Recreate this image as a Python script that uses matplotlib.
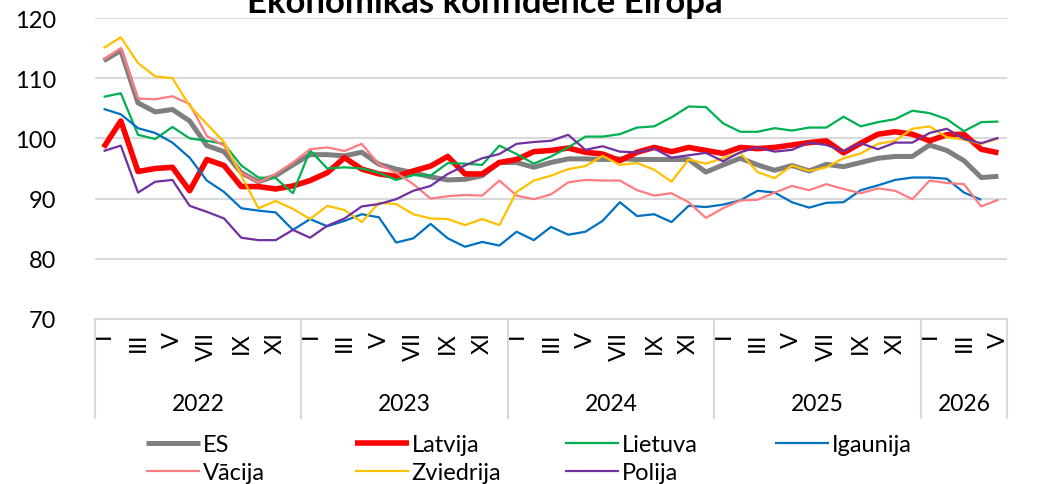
import matplotlib.pyplot as plt
import matplotlib.transforms as mtransforms
import numpy as np

plt.rcParams["font.family"] = ["Lato", "DejaVu Sans"]

# Gadi un mēnešu skaits katrā gadā (2022-I ... 2026-V)
gadi = ["2022", "2023", "2024", "2025", "2026"]
menesi_gada = [12, 12, 12, 12, 5]
menesu_etiketes = ["I", "", "III", "", "V", "", "VII", "", "IX", "", "XI", ""]

es = [112.9, 114.6, 105.9, 104.4, 104.8, 102.9, 98.8, 97.8, 94.3, 92.8, 93.8, 95.6, 97.3,
      97.3, 97.1, 97.7, 95.7, 94.9, 94.3, 93.6, 93.1, 93.2, 93.8, 96.0,
      96.0, 95.2, 96.0, 96.6, 96.6, 96.5, 96.6, 96.5, 96.5, 96.5, 96.5, 94.4,
      95.6, 96.7, 95.6, 94.7, 95.5, 94.6, 95.7, 95.3, 96.0, 96.7, 97.0, 97.0,
      98.9, 98.0, 96.3, 93.5, 93.7]
latvija = [98.5, 102.9, 94.5, 95.0, 95.2, 91.3, 96.5, 95.5, 92.0, 92.0, 91.6, 92.1, 93.0,
           94.3, 96.8, 94.9, 94.1, 93.7, 94.6, 95.4, 97.0, 94.1, 94.1, 96.0,
           96.5, 97.8, 98.0, 98.4, 97.7, 97.4, 96.3, 97.7, 98.5, 97.8, 98.5, 98.0,
           97.5, 98.5, 98.3, 98.5, 98.9, 99.3, 99.6, 97.6, 99.2, 100.7, 101.1, 100.7,
           99.6, 100.6, 100.7, 98.2, 97.6]
lietuva = [106.9, 107.5, 100.6, 99.9, 101.9, 100.0, 99.6, 99.1, 95.5, 93.5, 93.4, 90.9, 98.0,
           95.0, 95.2, 95.0, 94.3, 93.1, 93.9, 93.8, 95.9, 95.8, 95.6, 98.8,
           97.4, 95.8, 97.0, 98.5, 100.3, 100.3, 100.7, 101.8, 102.0, 103.5, 105.3, 105.2,
           102.5, 101.1, 101.1, 101.7, 101.3, 101.8, 101.8, 103.6, 102.0, 102.7, 103.2, 104.6,
           104.2, 103.2, 101.2, 102.7, 102.8]
igaunija = [104.9, 104.0, 101.7, 100.9, 99.3, 96.8, 93.0, 91.1, 88.4, 88.0, 87.7, 84.8, 86.6,
            85.4, 86.3, 87.4, 86.9, 82.7, 83.4, 85.8, 83.4, 82.0, 82.8, 82.2,
            84.5, 83.1, 85.3, 84.0, 84.5, 86.3, 89.4, 87.1, 87.4, 86.1, 88.8, 88.6,
            89.0, 89.7, 91.3, 91.0, 89.4, 88.5, 89.3, 89.4, 91.4, 92.2, 93.1, 93.5,
            93.5, 93.3, 91.0, 89.8, np.nan]
vacija = [113.1, 115.0, 106.6, 106.5, 107.0, 105.7, 100.4, 98.8, 94.3, 92.7, 94.1, 96.0, 98.2,
          98.5, 97.9, 99.1, 95.7, 94.3, 92.4, 90.0, 90.4, 90.6, 90.5, 93.0,
          90.5, 89.9, 90.7, 92.7, 93.1, 93.0, 93.0, 91.4, 90.5, 90.9, 89.4, 86.8,
          88.4, 89.7, 89.8, 91.0, 92.1, 91.4, 92.4, 91.6, 90.9, 91.7, 91.3, 89.9,
          93.0, 92.6, 92.4, 88.7, 89.8]
zviedrija = [115.0, 116.8, 112.5, 110.3, 110.0, 105.4, 102.4, 99.4, 93.8, 88.4, 89.6, 88.3, 86.6,
             88.8, 88.1, 86.1, 89.3, 89.1, 87.4, 86.7, 86.6, 85.6, 86.6, 85.6,
             91.1, 93.0, 93.8, 94.9, 95.4, 97.1, 95.6, 95.9, 94.8, 92.8, 96.5, 95.8,
             96.7, 97.6, 94.4, 93.4, 95.5, 94.6, 95.2, 96.7, 97.5, 99.1, 99.6, 101.6,
             102.0, 100.2, 99.8, 99.1, 100.0]
polija = [97.9, 98.8, 91.0, 92.8, 93.1, 88.8, 87.8, 86.7, 83.5, 83.1, 83.1, 84.8, 83.5,
          85.5, 86.7, 88.7, 89.1, 89.9, 91.3, 92.1, 94.1, 95.5, 96.7, 97.4,
          99.1, 99.4, 99.6, 100.6, 98.1, 98.7, 97.8, 97.7, 98.3, 96.8, 97.2, 97.6,
          96.2, 97.7, 98.5, 97.8, 98.1, 99.3, 98.9, 97.9, 99.2, 98.2, 99.3, 99.3,
          100.9, 101.6, 99.9, 99.2, 100.1]

serijas = [
    ("ES", es, "#7f7f7f", 3.6),
    ("Latvija", latvija, "#ff0000", 4.0),
    ("Lietuva", lietuva, "#00b050", 1.6),
    ("Igaunija", igaunija, "#0070c0", 1.6),
    ("Vācija", vacija, "#ff7c80", 1.6),
    ("Zviedrija", zviedrija, "#ffc000", 1.6),
    ("Polija", polija, "#7030a0", 1.6),
]

fig = plt.figure(figsize=(10.38, 4.85), dpi=100)
ax = fig.add_axes([95 / 1038, 1 - 320 / 485, 912 / 1038, 301 / 485])

n = sum(menesi_gada)
x = np.arange(n)
linijas = {}
for nosaukums, vertibas, krasa, lw in serijas:
    (l,) = ax.plot(x, vertibas, color=krasa, lw=lw, label=nosaukums,
                   solid_joinstyle="round", solid_capstyle="butt")
    linijas[nosaukums] = l

ax.set_xlim(-0.5, n - 0.5)
ax.set_ylim(70, 120)
ax.set_yticks(np.arange(70, 121, 10))
ax.grid(axis="y", color="#d9d9d9", lw=1.5)
ax.set_axisbelow(True)
for s in ["top", "right", "left"]:
    ax.spines[s].set_visible(False)
ax.spines["bottom"].set_color("#d9d9d9")
ax.spines["bottom"].set_linewidth(1.5)

# mēnešu etiķetes
etiketes = []
for m in menesi_gada:
    etiketes += menesu_etiketes[:m]
ax.set_xticks(x)
ax.set_xticklabels(etiketes, rotation=90, fontsize=17)
ax.tick_params(axis="x", length=0, pad=9)
ax.tick_params(axis="y", length=0, pad=28, labelsize=17)

# gadu līmenis
trans = mtransforms.blended_transform_factory(ax.transData, ax.transAxes)
robezas = np.concatenate([[0], np.cumsum(menesi_gada)]) - 0.5
for r in robezas:
    ax.plot([r, r], [0, -0.33], transform=trans, color="#d9d9d9", lw=1.5, clip_on=False)
for i, g in enumerate(gadi):
    ax.text((robezas[i] + robezas[i + 1]) / 2, -0.28, g, transform=trans,
            ha="center", va="center", fontsize=16.5)

fig.text(485 / 1038, 1 - 13 / 485, "Ekonomikas konfidence Eiropa", ha="center",
         va="baseline", fontsize=25, fontweight="bold")

# leģenda: 4 kolonnas ar vienādu platumu
kolonnas = [["ES", "Vācija"], ["Latvija", "Zviedrija"], ["Lietuva", "Polija"], ["Igaunija"]]
kol_x = [146, 355, 565, 775]
for k, xp in zip(kolonnas, kol_x):
    fig.legend([linijas[v] for v in k], k, loc="upper left",
               bbox_to_anchor=(xp / 1038, 1 - 435 / 485), frameon=False,
               fontsize=17, handlelength=2.3, handletextpad=0.1,
               borderpad=0, borderaxespad=0, labelspacing=0.3)

fig.savefig("out.png", dpi=100)
